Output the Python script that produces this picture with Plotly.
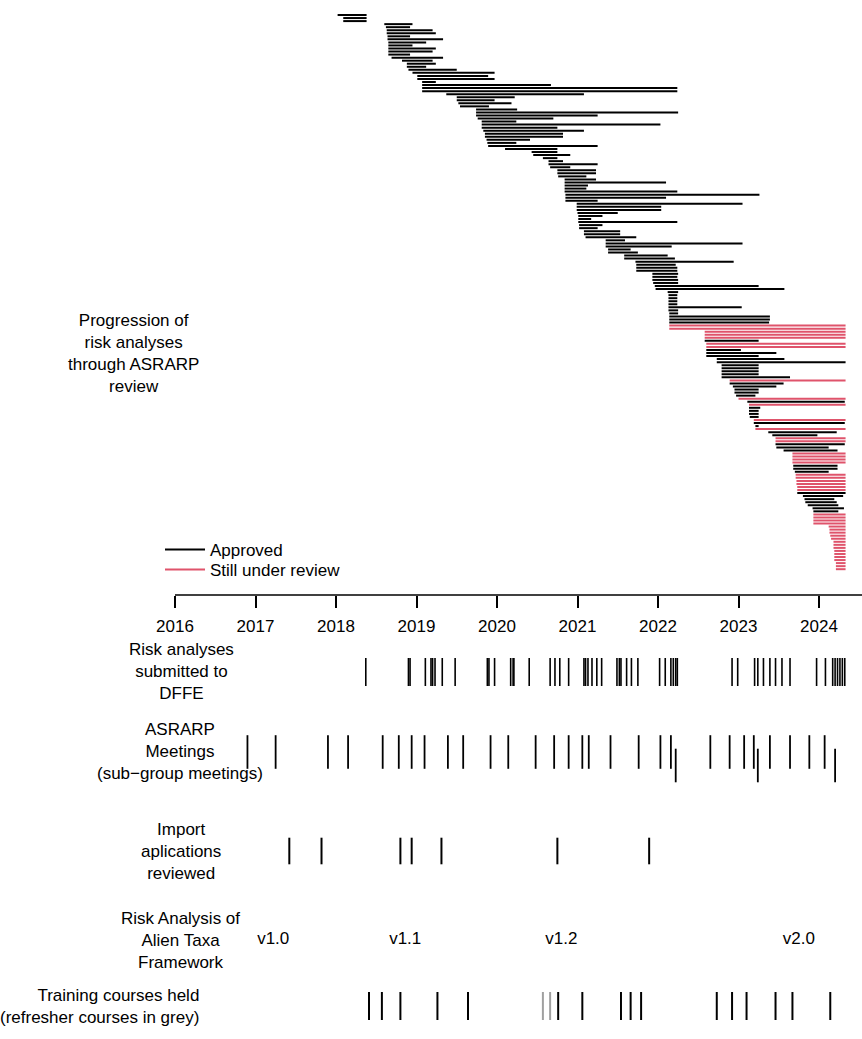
import plotly.graph_objects as go

# ---------------- data (decimal years) ----------------
START = [
    2018.02, 2018.09, 2018.09, 2018.60, 2018.62, 2018.63, 2018.63, 2018.64, 2018.64, 2018.65,
    2018.65, 2018.65, 2018.65, 2018.65, 2018.69, 2018.82, 2018.88, 2018.88, 2018.90, 2018.95,
    2019.01, 2019.01, 2019.07, 2019.07, 2019.07, 2019.07, 2019.37, 2019.50, 2019.50, 2019.52,
    2019.54, 2019.74, 2019.74, 2019.74, 2019.76, 2019.81, 2019.81, 2019.81, 2019.83, 2019.85,
    2019.85, 2019.87, 2019.88, 2019.89, 2020.10, 2020.43, 2020.45, 2020.57, 2020.64, 2020.64,
    2020.66, 2020.75, 2020.75, 2020.76, 2020.84, 2020.84, 2020.84, 2020.84, 2020.84, 2020.85,
    2020.85, 2020.85, 2020.99, 2020.99, 2020.99, 2021.00, 2021.01, 2021.01, 2021.01, 2021.02,
    2021.02, 2021.08, 2021.08, 2021.10, 2021.35, 2021.35, 2021.35, 2021.38, 2021.38, 2021.58,
    2021.58, 2021.72, 2021.73, 2021.73, 2021.73, 2021.93, 2021.93, 2021.93, 2021.94, 2021.96,
    2021.97, 2022.12, 2022.13, 2022.13, 2022.13, 2022.13, 2022.13, 2022.13, 2022.14, 2022.14,
    2022.14, 2022.14, 2022.14, 2022.14, 2022.58, 2022.58, 2022.58, 2022.58, 2022.60, 2022.60,
    2022.60, 2022.60, 2022.60, 2022.73, 2022.73, 2022.79, 2022.79, 2022.79, 2022.79, 2022.79,
    2022.89, 2022.89, 2022.93, 2022.95, 2022.95, 2022.97, 2023.00, 2023.11, 2023.13, 2023.13,
    2023.13, 2023.13, 2023.14, 2023.19, 2023.19, 2023.21, 2023.21, 2023.37, 2023.42, 2023.46,
    2023.46, 2023.46, 2023.47, 2023.56, 2023.67, 2023.67, 2023.67, 2023.67, 2023.68, 2023.68,
    2023.70, 2023.71, 2023.71, 2023.72, 2023.72, 2023.73, 2023.73, 2023.73, 2023.80, 2023.82,
    2023.83, 2023.86, 2023.92, 2023.93, 2023.93, 2023.93, 2023.93, 2023.93, 2024.12, 2024.13,
    2024.13, 2024.14, 2024.15, 2024.18, 2024.18, 2024.18, 2024.19, 2024.19, 2024.19, 2024.19,
    2024.21, 2024.21, 2024.21,
]
END = [
    2018.38, 2018.38, 2018.38, 2018.95, 2018.92, 2019.20, 2019.24, 2018.92, 2019.33, 2019.12,
    2018.95, 2019.24, 2019.20, 2018.92, 2019.33, 2019.20, 2019.24, 2019.12, 2019.50, 2019.97,
    2019.89, 2019.97, 2019.24, 2020.67, 2022.24, 2022.24, 2021.08, 2020.22, 2019.97, 2020.18,
    2019.90, 2020.25, 2022.25, 2021.25, 2020.70, 2020.24, 2022.03, 2020.75, 2021.08, 2020.82,
    2020.82, 2020.41, 2020.24, 2021.25, 2020.75, 2020.75, 2020.91, 2020.75, 2020.82, 2021.25,
    2020.91, 2021.23, 2021.23, 2021.11, 2021.23, 2022.10, 2021.13, 2021.11, 2022.24, 2023.26,
    2022.10, 2021.25, 2023.05, 2022.04, 2022.04, 2021.50, 2021.31, 2021.17, 2022.24, 2021.31,
    2021.25, 2021.53, 2021.53, 2021.73, 2021.59, 2023.05, 2022.17, 2021.66, 2021.75, 2022.12,
    2022.21, 2022.94, 2022.22, 2022.24, 2022.24, 2022.25, 2022.24, 2022.25, 2022.25, 2023.25,
    2023.57, 2022.25, 2022.24, 2022.24, 2022.24, 2022.24, 2023.04, 2022.25, 2022.25, 2023.39,
    2023.39, 2023.38, 2024.33, 2024.33, 2024.33, 2024.33, 2024.33, 2023.25, 2024.33, 2024.33,
    2023.03, 2023.47, 2023.25, 2023.57, 2024.33, 2023.25, 2023.25, 2023.25, 2023.25, 2023.64,
    2024.33, 2023.56, 2023.47, 2023.25, 2023.25, 2023.21, 2024.33, 2024.32, 2024.33, 2023.27,
    2023.25, 2023.25, 2023.25, 2024.33, 2024.32, 2023.25, 2024.33, 2024.22, 2023.98, 2024.33,
    2024.33, 2024.32, 2024.12, 2024.23, 2024.33, 2024.33, 2024.33, 2024.33, 2024.23, 2024.23,
    2024.12, 2024.33, 2024.33, 2024.33, 2024.33, 2024.33, 2024.33, 2024.33, 2024.30, 2024.19,
    2024.22, 2024.24, 2024.31, 2024.24, 2024.33, 2024.33, 2024.33, 2024.33, 2024.33, 2024.33,
    2024.33, 2024.33, 2024.33, 2024.33, 2024.33, 2024.33, 2024.33, 2024.33, 2024.33, 2024.33,
    2024.33, 2024.33, 2024.33,
]
# A = approved, R = still under review (one letter per row, top to bottom)
STATUS = (
    "AAAAAAAAAA" "AAAAAAAAAA" "AAAAAAAAAA" "AAAAAAAAAA" "AAAAAAAAAA"
    "AAAAAAAAAA" "AAAAAAAAAA" "AAAAAAAAAA" "AAAAAAAAAA" "AAAAAAAAAA"
    "AARRRRRARR" "AAAAAAAAAA" "RAAAAARARA" "AAARAARAAR" "RAAARRRRAA"
    "ARRRRRRAAA" "AAAARRRRRR" "RRRRRRRRRR" "RRR"
)
STATUS_NAMES = {"A": "Approved", "R": "Still under review"}

DFFE_SUBMITTED = [
    2018.37, 2018.90, 2018.92, 2019.11, 2019.18, 2019.20, 2019.23, 2019.32, 2019.48, 2019.88,
    2019.90, 2019.97, 2020.17, 2020.20, 2020.21, 2020.40, 2020.66, 2020.72, 2020.78, 2020.89,
    2021.08, 2021.10, 2021.13, 2021.18, 2021.24, 2021.30, 2021.49, 2021.52, 2021.54, 2021.61,
    2021.67, 2021.75, 2022.02, 2022.09, 2022.16, 2022.19, 2022.22, 2022.24, 2022.92, 2022.99,
    2023.20, 2023.24, 2023.31, 2023.39, 2023.46, 2023.54, 2023.64, 2023.97, 2024.08, 2024.17,
    2024.20, 2024.23, 2024.26, 2024.29, 2024.32,
]
ASRARP_MEETINGS = [
    2016.90, 2017.25, 2017.90, 2018.15, 2018.58, 2018.78, 2018.94, 2019.10, 2019.39, 2019.58,
    2019.92, 2020.14, 2020.48, 2020.71, 2020.89, 2021.06, 2021.14, 2021.41, 2021.76, 2022.03,
    2022.16, 2022.65, 2022.89, 2023.07, 2023.19, 2023.39, 2023.64, 2023.88, 2024.07,
]
ASRARP_SUBGROUP = [2022.22, 2023.24, 2024.20]
IMPORT_REVIEWED = [2017.42, 2017.82, 2018.80, 2018.94, 2019.31, 2020.75, 2021.89]
FRAMEWORK_DATES = [2017.22, 2018.86, 2020.80, 2023.75]
FRAMEWORK_LABELS = ["v1.0", "v1.1", "v1.2", "v2.0"]
TRAINING = [
    2018.41, 2018.57, 2018.80, 2019.26, 2019.64, 2020.76, 2021.06, 2021.54, 2021.66, 2021.79,
    2022.73, 2022.92, 2023.10, 2023.46, 2023.67, 2024.14,
]
TRAINING_REFRESHER = [2020.57, 2020.66]
TICK_YEARS = [2016, 2017, 2018, 2019, 2020, 2021, 2022, 2023, 2024]

# ---------------- layout constants ----------------
W, H = 862, 1039
PX_PER_YEAR = 80.5
X0_PX = 175.0                     # pixel of the 2016 tick
X_RANGE = [2016 - X0_PX / PX_PER_YEAR, 2016 + (W - X0_PX) / PX_PER_YEAR]
SPLIT_PX = 595.0                  # axis line position
ROW_PX0, ROW_STEP = 15.0, 3.045   # first row pixel, row spacing
Y_TOP_RANGE = [1 + (SPLIT_PX - ROW_PX0) / ROW_STEP, 1 - ROW_PX0 / ROW_STEP]
ROW_Y = {"dffe": 672, "asrarp": 752, "import": 851, "framework": 940, "training": 1006}
SUB_OFFSET = 13.5

BLACK = "#000000"
PINK = "#DF536B"
GREY = "#A0A0A0"
FONT = "Liberation Sans"
FS = 17

fig = go.Figure()

# segments (one trace per status, each in its own legend box)
for code, color, leg in (("A", BLACK, "legend"), ("R", PINK, "legend2")):
    xs, ys = [], []
    for i, (s, e, st) in enumerate(zip(START, END, STATUS)):
        if st == code:
            xs += [s, e, None]
            ys += [i + 1, i + 1, None]
    fig.add_trace(go.Scatter(x=xs, y=ys, mode="lines", name=STATUS_NAMES[code],
                             line=dict(color=color, width=2), xaxis="x", yaxis="y",
                             legend=leg, hoverinfo="skip"))


def tick_row(xvals, ypos, size, color=BLACK, width=1.8):
    fig.add_trace(go.Scatter(
        x=xvals, y=[ypos] * len(xvals), mode="markers", showlegend=False,
        marker=dict(symbol="line-ns", size=size, color=color,
                    line=dict(color=color, width=width)),
        xaxis="x", yaxis="y2", hoverinfo="skip"))


tick_row(DFFE_SUBMITTED, ROW_Y["dffe"], 20, width=1.6)
tick_row(ASRARP_MEETINGS, ROW_Y["asrarp"], 24)
tick_row(ASRARP_SUBGROUP, ROW_Y["asrarp"] + SUB_OFFSET, 24)
tick_row(IMPORT_REVIEWED, ROW_Y["import"], 19, width=2)
tick_row(TRAINING, ROW_Y["training"], 20, width=2)
tick_row(TRAINING_REFRESHER, ROW_Y["training"], 20, color=GREY, width=2)

fig.add_trace(go.Scatter(
    x=FRAMEWORK_DATES, y=[ROW_Y["framework"]] * len(FRAMEWORK_DATES), mode="text",
    text=FRAMEWORK_LABELS, textposition="middle center", showlegend=False,
    textfont=dict(family=FONT, size=FS, color=BLACK), xaxis="x", yaxis="y2",
    hoverinfo="skip"))

# axis line from the first tick to the right edge
fig.add_shape(type="line", xref="x", yref="paper", x0=TICK_YEARS[0], x1=X_RANGE[1],
              y0=1 - SPLIT_PX / H, y1=1 - SPLIT_PX / H, line=dict(color=BLACK, width=1.5))


def label(text, x_px, y_px, xanchor="center", align="center"):
    fig.add_annotation(text=text, xref="paper", yref="paper", x=x_px / W, y=1 - y_px / H,
                       xanchor=xanchor, yanchor="middle", align=align, showarrow=False,
                       font=dict(family=FONT, size=FS, color=BLACK))


label("Progression of<br>risk analyses<br>through ASRARP<br>review", 133, 353)
label("Risk analyses<br>submitted to<br>DFFE", 181, 671)
label("ASRARP<br>Meetings<br>(sub\u2212group meetings)", 180, 751)
label("Import<br>aplications<br>reviewed", 181, 851)
label("Risk Analysis of<br>Alien Taxa<br>Framework", 180, 940)
label("Training courses held<br>(refresher courses in grey)", 201, 1006,
      xanchor="right", align="right")

legend_style = dict(xanchor="left", yanchor="top", bgcolor="rgba(0,0,0,0)",
                    font=dict(family=FONT, size=FS), tracegroupgap=0, itemwidth=40)

fig.update_layout(
    width=W, height=H, margin=dict(l=0, r=0, t=0, b=0),
    paper_bgcolor="white", plot_bgcolor="white",
    font=dict(family=FONT, size=FS, color=BLACK),
    showlegend=True,
    legend=dict(x=160 / W, y=1 - 532 / H, **legend_style),
    legend2=dict(x=160 / W, y=1 - 552 / H, **legend_style),
    xaxis=dict(range=X_RANGE, domain=[0, 1], anchor="y", showgrid=False, zeroline=False,
               showline=False, tickmode="array", tickvals=TICK_YEARS,
               ticktext=[str(t) for t in TICK_YEARS], ticks="outside", ticklen=12,
               tickwidth=1.5, tickcolor=BLACK, tickfont=dict(family=FONT, size=FS),
               ticklabelstandoff=4, fixedrange=True),
    yaxis=dict(domain=[1 - SPLIT_PX / H, 1], range=Y_TOP_RANGE, visible=False,
               showgrid=False, zeroline=False, fixedrange=True),
    yaxis2=dict(domain=[0, 1 - SPLIT_PX / H], range=[H, SPLIT_PX], visible=False,
                showgrid=False, zeroline=False, fixedrange=True),
)

fig.write_html("out.html", config={"displayModeBar": False},
               post_script="document.body.style.margin='0';")
